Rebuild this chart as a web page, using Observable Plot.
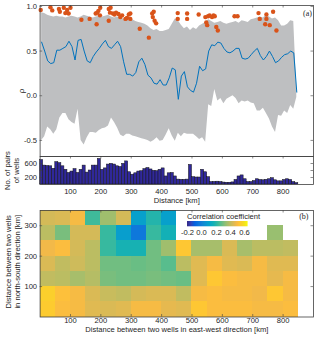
<!DOCTYPE html>
<html><head><meta charset="utf-8">
<script src="https://cdn.jsdelivr.net/npm/d3@7"></script>
<script src="https://cdn.jsdelivr.net/npm/@observablehq/plot@0.6"></script>
<style>
html,body{margin:0;padding:0;background:#fff;}
#wrap{position:relative;width:320px;height:337px;overflow:hidden;}
#wrap > div{position:absolute;left:0;}
svg.cbar-ramp > text{transform:translateY(4px);font-weight:normal;}
svg.cbar-ramp .tick line{display:none;}
</style></head><body>
<div id="wrap"><div id="pa" style="top:0px"></div><div id="pb" style="top:150px"></div><div id="pc" style="top:200px"></div><div id="leg" style="left:186.7px;top:212.7px"></div></div>
<script>
// ---------- data ----------
const distKm = [5,15,25,35,45,55,65,75,85,95,105,115,125,135,145,155,165,175,185,195,205,215,225,235,245,255,265,275,285,295,305,315,325,335,345,355,365,375,385,395,405,415,425,435,445,455,465,475,485,495,505,515,525,535,545,555,565,575,585,595,605,615,625,635,645,655,665,675,685,695,705,715,725,735,745,755,765,775,785,795,805,815,825,835,845];
const rhoMean = [0.60,0.50,0.39,0.36,0.37,0.51,0.51,0.53,0.55,0.61,
 0.55,0.40,0.62,0.63,0.50,0.39,0.37,0.44,0.49,0.53,
 0.58,0.62,0.55,0.53,0.57,0.61,0.55,0.38,0.24,0.24,
 0.22,0.26,0.38,0.42,0.35,0.23,0.20,0.14,0.13,0.18,
 0.12,0.12,0.20,0.31,0.29,-0.04,0.22,0.27,0.10,0.06,
 0.04,0.14,0.33,0.28,0.30,0.50,0.57,0.56,0.60,0.59,
 0.53,0.49,0.48,0.50,0.53,0.53,0.42,0.41,0.42,0.46,
 0.50,0.53,0.45,0.40,0.44,0.50,0.44,0.37,0.39,0.43,
 0.46,0.47,0.50,0.48,0.04];
const rhoHigh = [0.93,0.92,0.90,0.89,0.88,0.89,0.88,0.88,0.87,0.88,
 0.89,0.88,0.87,0.88,0.90,0.89,0.88,0.87,0.88,0.89,
 0.88,0.89,0.90,0.88,0.87,0.88,0.87,0.86,0.85,0.84,
 0.85,0.83,0.82,0.81,0.80,0.78,0.75,0.73,0.74,0.72,
 0.72,0.73,0.74,0.80,0.86,0.84,0.79,0.75,0.77,0.73,
 0.76,0.74,0.78,0.80,0.82,0.85,0.83,0.81,0.82,0.83,
 0.81,0.80,0.81,0.82,0.83,0.81,0.84,0.83,0.82,0.85,
 0.86,0.87,0.88,0.87,0.90,0.88,0.86,0.87,0.84,0.78,
 0.78,0.80,0.84,0.83,0.06];
const rhoLow = [-0.50,-0.46,-0.35,-0.38,-0.43,-0.38,-0.25,-0.20,-0.20,-0.27,
 -0.30,-0.32,-0.15,-0.50,-0.55,-0.47,-0.41,-0.41,-0.42,-0.39,
 -0.37,-0.36,-0.34,-0.25,-0.30,-0.36,-0.44,-0.46,-0.43,-0.43,
 -0.45,-0.46,-0.47,-0.48,-0.49,-0.50,-0.52,-0.50,-0.47,-0.51,
 -0.50,-0.44,-0.37,-0.45,-0.51,-0.42,-0.46,-0.42,-0.43,-0.43,
 -0.43,-0.46,-0.49,-0.47,-0.52,-0.10,-0.12,0.07,-0.06,-0.03,
 -0.09,-0.04,-0.02,0.00,-0.03,-0.09,-0.06,-0.07,-0.06,-0.08,
 -0.09,-0.17,-0.17,-0.14,-0.20,-0.26,-0.35,-0.41,-0.22,-0.23,
 -0.17,-0.20,-0.11,-0.15,-0.02];
const pairCount = [700,540,530,520,450,640,610,520,420,330,
 370,440,330,420,540,340,400,540,540,730,
 420,460,570,590,570,520,500,590,660,350,
 280,320,370,380,440,470,430,390,380,420,
 460,230,320,330,230,140,135,135,140,560,
 210,200,200,420,350,210,70,75,80,70,
 55,50,50,60,130,230,260,150,70,70,
 100,150,130,120,135,150,180,120,90,90,
 130,150,130,70,40];
const dotKm = [2,34,40,62,65,78,83,89,94,100,136,163,183,186,188,192,198,197,226,226,232,230,240,245,250,258,264,270,281,286,292,297,297,328,358,369,374,371,377,382,453,453,484,484,522,544,547,550,553,558,566,571,575,580,585,640,650,719,723,745,745,767,741,756,778];
const dotRho = [0.96,0.99,0.955,0.97,0.94,0.985,0.925,0.96,0.92,0.985,0.85,0.86,0.92,0.80,0.93,0.95,0.985,0.90,0.84,0.97,0.985,0.93,0.92,0.91,0.93,0.915,0.88,0.90,0.86,0.87,0.91,0.92,0.86,0.75,0.65,0.92,0.94,0.88,0.84,0.81,0.925,0.86,0.92,0.86,0.91,0.88,0.82,0.79,0.89,0.90,0.88,0.90,0.89,0.77,0.73,0.89,0.89,0.925,0.86,0.91,0.86,0.94,0.80,0.79,0.73];

const ewStart = [0,50,100,150,200,250,300,350,400,450,500,550,600,650,700,750,800];
const nsStart = [0,50,100,150,200,250,300];
const corrNs0   = [0.55,0.51,0.50,0.46,0.45,0.46,0.50,0.50,0.47,0.46,0.54,0.51,0.51,0.51,0.50,0.50,0.51];
const corrNs50  = [0.56,0.52,0.50,0.45,0.42,0.41,0.44,0.45,0.45,0.41,0.50,0.51,0.50,0.50,0.49,0.54,0.50];
const corrNs100 = [0.41,0.40,0.37,0.39,0.31,0.30,0.30,0.31,0.30,0.29,0.46,0.54,0.51,0.50,0.50,0.47,0.50];
const corrNs150 = [0.45,0.41,0.43,0.40,0.30,0.30,0.29,0.30,0.27,0.40,0.46,0.50,0.46,0.45,0.50,0.46,0.46];
const corrNs200 = [0.49,0.51,0.44,0.40,0.23,0.18,0.18,0.30,0.36,0.54,0.37,0.37,0.45,0.37,0.40,0.40,0.41];
const corrNs250 = [0.40,0.31,0.44,0.44,0.23,0.09,-0.03,0.23,0.17,null,null,null,null,null,null,0.35,null];
const corrNs300 = [0.44,0.45,0.50,0.24,0.36,0.44,0.10,0.20,0.10,null,null,null,null,null,null,null,null];

const kmTicks = [100,200,300,400,500,600,700,800];
const rhoTicks = [-0.5,0,0.5,1];
const pairTicks = [200,400,600];
const pairLabels = [200,600];
const nsTicks = [100,200,300];
const cbarTicks = [-0.2,0,0.2,0.4,0.6];
const parulaT = [0,0.063,0.127,0.19,0.254,0.317,0.381,0.444,0.508,0.571,0.635,0.698,0.762,0.81,0.841,0.873,0.905,0.952,1];
const parulaC = ["#352a87","#3243ba","#0363e1","#0d75dc","#1485d4","#0998d1","#06a7c6","#15b1b4","#38b99e","#65be86","#92bf73","#b7bd64","#d9ba56","#f1b94a","#fdbe3d","#fec832","#f9d329","#f5e41d","#f9fb0e"];

// ---------- tables ----------
const profile = distKm.map((km,i)=>({km, rho: rhoMean[i], hi: rhoHigh[i], lo: rhoLow[i], n: pairCount[i]}));
const dots = dotKm.map((km,i)=>({km, rho: dotRho[i]}));
const corrRows = [corrNs0,corrNs50,corrNs100,corrNs150,corrNs200,corrNs250,corrNs300];
const cells = nsStart.flatMap((ns,j)=>ewStart.map((ew,i)=>({ew, ns, r: corrRows[j][i]}))).filter(d=>d.r!=null);

// ---------- styling ----------
const W = 320, ML = 39.6, MR = 7;
const FW = W - ML - MR;
const TL = 2.5;
const axisCol = "#404040";
const font = {fontFamily: "'Liberation Sans', Arial, Helvetica, sans-serif", fontSize: "7.6px", background: "transparent", color: "#262626", overflow: "visible"};
const serif = "'Liberation Serif', 'Times New Roman', serif";
const parulaScale = d3.scaleLinear(parulaT, parulaC).interpolate(d3.interpolateRgb).clamp(true);
const parula = t => parulaScale(t);
const colorOpts = {type: "linear", domain: [-0.2, 0.65], interpolate: parula, clamp: true};
const tk = {stroke: axisCol, strokeWidth: 0.6};

function sideTicks(xt, yt, fh, top=true, bottom=true) {
  const m = [];
  if (xt) {
    if (bottom) m.push(Plot.tickX(xt, {x: d=>d, insetTop: fh-TL, ...tk}));
    if (top) m.push(Plot.tickX(xt, {x: d=>d, insetBottom: fh-TL, ...tk}));
  }
  if (yt) {
    m.push(Plot.tickY(yt, {y: d=>d, insetRight: FW-TL, ...tk}));
    m.push(Plot.tickY(yt, {y: d=>d, insetLeft: FW-TL, ...tk}));
  }
  return m;
}

// ---------- panel (a) ----------
const HA = 157, MTA = 5, MBA = 1;
const pa = Plot.plot({
  width: W, height: HA, marginLeft: ML, marginRight: MR, marginTop: MTA, marginBottom: MBA,
  style: font,
  x: {domain: [0, 900], axis: null},
  y: {domain: [-0.68, 1.01]},
  marks: [
    Plot.areaY(profile, {x: "km", y1: "lo", y2: "hi", fill: "#bebfc1"}),
    Plot.lineY(profile, {x: "km", y: "rho", stroke: "#0072bd", strokeWidth: 1}),
    Plot.dot(dots, {x: "km", y: "rho", r: 2.2, fill: "#d95319"}),
    ...sideTicks(kmTicks, rhoTicks, HA-MTA-MBA, true, false),
    Plot.axisY({ticks: rhoTicks, tickSize: 0, tickPadding: 3, tickFormat: d=>d.toFixed(1), label: null}),
    Plot.text(["ρ"], {frameAnchor: "left", dx: -19, dy: 10, rotate: -90, textAnchor: "middle", lineAnchor: "middle", fontSize: 8}),
    Plot.text(["(a)"], {frameAnchor: "top-right", dx: -1.5, dy: 8.3, textAnchor: "end", lineAnchor: "middle", fontFamily: serif, fontSize: 8}),
    Plot.frame({stroke: axisCol, strokeWidth: 0.8})
  ]
});
document.getElementById("pa").appendChild(pa);

// ---------- bar panel ----------
const HB = 60, MTB = 6, MBB = 26;
const pb = Plot.plot({
  width: W, height: HB, marginLeft: ML, marginRight: MR, marginTop: MTB, marginBottom: MBB,
  style: font,
  x: {domain: [0, 900]},
  y: {domain: [0, 800]},
  marks: [
    Plot.rectY(profile, {x1: d=>d.km-5, x2: d=>d.km+5, y1: 0, y2: "n", fill: "#30289a", stroke: "#141414", strokeWidth: 0.5}),
    ...sideTicks(kmTicks, pairTicks, HB-MTB-MBB, true, true),
    Plot.axisX({ticks: kmTicks, tickSize: 0, tickPadding: 4, label: null}),
    Plot.axisY({ticks: pairLabels, tickSize: 0, tickPadding: 3, label: null}),
    Plot.text(["Distance [km]"], {frameAnchor: "bottom", dy: 16, textAnchor: "middle", lineAnchor: "middle"}),
    Plot.text(["No. of pairs\nof wells"], {frameAnchor: "left", dx: -28.4, rotate: -90, textAnchor: "middle", lineAnchor: "middle", lineHeight: 1.12}),
    Plot.frame({stroke: axisCol, strokeWidth: 0.8})
  ]
});
document.getElementById("pb").appendChild(pb);

// ---------- panel (b) ----------
const HC = 137, MTC = 10, MBC = 20.5;
const pc = Plot.plot({
  width: W, height: HC, marginLeft: ML, marginRight: MR, marginTop: MTC, marginBottom: MBC,
  style: font,
  x: {domain: [0, 900]},
  y: {domain: [0, 350]},
  color: colorOpts,
  marks: [
    Plot.rect(cells, {x1: "ew", x2: d=>d.ew+50, y1: "ns", y2: d=>d.ns+50, fill: "r", shapeRendering: "crispEdges"}),
    ...sideTicks(kmTicks, nsTicks, HC-MTC-MBC, true, true),
    Plot.axisX({ticks: kmTicks, tickSize: 0, tickPadding: 1, label: null}),
    Plot.axisY({ticks: nsTicks, tickSize: 0, tickPadding: 3, label: null}),
    Plot.text(["Distance between two wells in east-west direction [km]"], {frameAnchor: "bottom", dy: 12.5, textAnchor: "middle", lineAnchor: "middle"}),
    Plot.text(["Distance between two wells\nin north-south direction [km]"], {frameAnchor: "left", dx: -27.6, dy: -2, rotate: -90, textAnchor: "middle", lineAnchor: "middle", lineHeight: 1.18}),
    Plot.text(["(b)"], {frameAnchor: "top-right", dx: -5, dy: 5.7, textAnchor: "end", lineAnchor: "middle", fontFamily: serif, fontSize: 8}),
    Plot.frame({stroke: axisCol, strokeWidth: 0.8})
  ]
});
document.getElementById("pc").appendChild(pc);

// ---------- colour bar ----------
const leg = Plot.legend({
  color: colorOpts, label: "Correlation coefficient", className: "cbar",
  width: 60.6, height: 25.3, marginTop: 8, marginBottom: 12, marginLeft: 0, marginRight: 0,
  tickSize: 0, ticks: cbarTicks, tickFormat: d=>d.toFixed(1), style: font
});
document.getElementById("leg").appendChild(leg);
</script>
</body></html>
